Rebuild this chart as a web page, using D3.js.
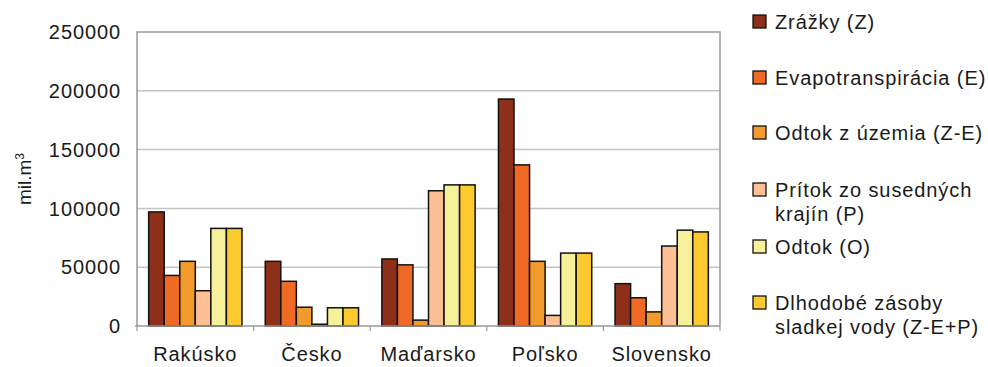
<!DOCTYPE html>
<html><head><meta charset="utf-8">
<script src="https://cdn.jsdelivr.net/npm/d3@7"></script>
<style>
body{margin:0;background:#fff;}
text{font-family:"Liberation Sans",Arial,sans-serif;fill:#1a1a1a;}
</style></head>
<body><svg id="c" width="988" height="367"></svg>
<script>
const categories = ["Rakúsko","Česko","Maďarsko","Poľsko","Slovensko"];
const seriesNames = ["Zrážky (Z)","Evapotranspirácia (E)","Odtok z územia (Z-E)","Prítok zo susedných krajín (P)","Odtok (O)","Dlhodobé zásoby sladkej vody (Z-E+P)"];
const legendLines = [["Zrážky (Z)"],["Evapotranspirácia (E)"],["Odtok z územia (Z-E)"],["Prítok zo susedných","krajín (P)"],["Odtok (O)"],["Dlhodobé zásoby","sladkej vody (Z-E+P)"]];
const zrazky    = [97000, 55000, 57000, 193000, 36000];
const evapo     = [43000, 38000, 52000, 137000, 24000];
const odtokUzem = [55000, 16000,  5000,  55000, 12000];
const pritok    = [30000,  1500, 115000,  9000, 68000];
const odtok     = [83000, 15500, 120000, 62000, 81500];
const zasoby    = [83000, 15500, 120000, 62000, 80000];
const yTicks = [0, 50000, 100000, 150000, 200000, 250000];
const colors = ["#8e3019","#ee6a25","#f39a2c","#fdc095","#f6f09a","#fcc92e"];

const series = [zrazky, evapo, odtokUzem, pritok, odtok, zasoby];
const svg = d3.select("#c");
const L = 137, R = 720, T = 32, B = 326;

const x0 = d3.scaleBand().domain(categories).range([L, R]).paddingInner(0.2).paddingOuter(0.1);
const x1 = d3.scaleBand().domain(d3.range(series.length)).range([0, x0.bandwidth()]);
const y = d3.scaleLinear().domain([0, 250000]).range([B, T]);

// gridlines
svg.append("g").selectAll("line").data(yTicks.filter(t => t > 0 && t < 250000)).join("line")
  .attr("x1", L).attr("x2", R).attr("y1", d => y(d)).attr("y2", d => y(d))
  .attr("stroke", "#c4c4c4").attr("stroke-width", 1.5);
// frame
svg.append("path").attr("d", `M${L},${B}V${T}H${R}V${B}`).attr("fill", "none")
  .attr("stroke", "#999").attr("stroke-width", 1.5);

// bars
const g = svg.append("g");
categories.forEach((c, ci) => {
  series.forEach((s, si) => {
    g.append("rect")
      .attr("x", x0(c) + x1(si))
      .attr("y", y(s[ci]))
      .attr("width", x1.bandwidth())
      .attr("height", B - y(s[ci]))
      .attr("fill", colors[si])
      .attr("stroke", "#111").attr("stroke-width", 1.5);
  });
});

// bottom axis
svg.append("line").attr("x1", L - 2).attr("x2", R).attr("y1", B).attr("y2", B)
  .attr("stroke", "#999").attr("stroke-width", 1.5);
const bounds = categories.map(c => x0(c) - x0.step() * x0.paddingInner() / 2).concat([R]);
svg.append("g").selectAll("line").data(bounds).join("line")
  .attr("x1", d => d).attr("x2", d => d).attr("y1", B).attr("y2", B + 5)
  .attr("stroke", "#999").attr("stroke-width", 1.2);

// y tick labels
svg.append("g").selectAll("text").data(yTicks).join("text")
  .attr("x", 121).attr("y", d => y(d)).attr("dy", "0.36em")
  .attr("text-anchor", "end").style("font-size", "20px").style("letter-spacing", "0.9px")
  .text(d => d);

// category labels
svg.append("g").selectAll("text").data(categories).join("text")
  .attr("x", d => x0(d) + x0.bandwidth() / 2).attr("y", 361)
  .attr("text-anchor", "middle").style("font-size", "20px").style("letter-spacing", "0.9px")
  .text(d => d);

// y label
const yl = svg.append("text").attr("transform", "translate(31,179) rotate(-90)")
  .attr("text-anchor", "middle").style("font-size", "19px");
yl.append("tspan").text("mil.m");
yl.append("tspan").attr("dy", "-7").style("font-size", "12px").text("3");

// legend
const rowsY = [22, 78, 133, 190, 247, 303];
const lg = svg.append("g");
legendLines.forEach((lines, i) => {
  lg.append("rect").attr("x", 753).attr("y", rowsY[i] - 7).attr("width", 13).attr("height", 13)
    .attr("fill", colors[i]).attr("stroke", "#111").attr("stroke-width", 1.3);
  lines.forEach((t, j) => {
    lg.append("text").attr("x", 775).attr("y", rowsY[i] + j * 23.5).attr("dy", "0.36em")
      .style("font-size", "20px").style("letter-spacing", "0.9px").text(t);
  });
});
</script></body></html>
